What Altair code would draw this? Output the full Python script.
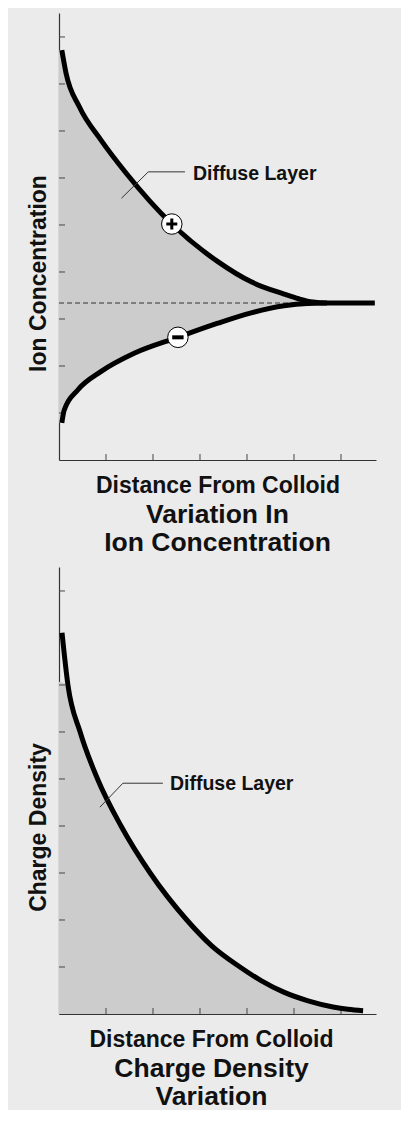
import altair as alt
import pandas as pd

# ---------------- data ----------------
X_MAX = 6.745          # x-axis extent (tick spacing = 1 unit)
Y_MAX = 9.51           # y-axis extent
tick_x = [1, 2, 3, 4, 5, 6]
tick_y = [1, 2, 3, 4, 5, 6, 7, 8, 9]

# Panel 1: Variation in ion concentration
pos_x = [0.06, 0.15, 0.43, 0.89, 1.43, 2.40, 3.38, 4.09, 4.79, 5.1, 5.4, 5.7, 6.72]
pos_y = [8.72, 8.23, 7.52, 6.81, 6.10, 5.02, 4.22, 3.79, 3.53, 3.43, 3.36, 3.34, 3.34]
neg_x = [0.06, 0.11, 0.40, 0.89, 1.60, 2.53, 3.38, 4.09, 4.79, 5.29, 5.7]
neg_y = [0.79, 1.06, 1.49, 1.88, 2.27, 2.61, 2.91, 3.13, 3.28, 3.33, 3.34]
ion_level = [3.34]          # bulk concentration (dashed line)
ion_level_end = [5.36]
sign_x = [2.40, 2.53]
sign_y = [5.02, 2.61]
sign_kind = ["plus", "minus"]
ion_leader_x = [2.68, 1.90, 1.33]
ion_leader_y = [6.13, 6.13, 5.57]
ion_label_x = [2.85]
ion_label_y = [6.09]

# Panel 2: Charge density variation
cd_x = [0.064, 0.19, 0.45, 0.82, 1.32, 1.94, 2.72, 3.25, 3.85, 4.3, 4.77, 5.3, 5.83, 6.15, 6.47]
cd_y = [8.11, 7.0, 6.0, 5.0, 4.0, 3.0, 2.0, 1.45, 1.0, 0.71, 0.47, 0.28, 0.15, 0.1, 0.07]
cd_fill_top = 7.07
cd_leader_x = [2.21, 1.36, 0.87]
cd_leader_y = [4.91, 4.91, 4.40]
cd_label_x = [2.36]
cd_label_y = [4.89]

# ---------------- styling ----------------
W, H = 317, 447
FONT = "Liberation Sans"
TXT = "#111111"
FILL = "#cccccc"
xs = alt.Scale(domain=[0, X_MAX], nice=False, zero=False)
ys = alt.Scale(domain=[0, Y_MAX], nice=False, zero=False)


def axes(xtitle, ytitle, xtitle_x=None):
    xa = dict(title=xtitle, labels=False, ticks=False, grid=False,
              domainColor="#333333", domainWidth=1.2,
              titleFont=FONT, titleFontSize=23, titleFontWeight="bold",
              titleColor=TXT, titleBaseline="alphabetic", titleY=32)
    if xtitle_x is not None:
        xa["titleX"] = xtitle_x
    ya = dict(title=ytitle, labels=False, ticks=False, grid=False,
              domainColor="#333333", domainWidth=1.2,
              titleFont=FONT, titleFontSize=23, titleFontWeight="bold",
              titleColor=TXT, titleAngle=270, titleX=-21, titleY=260,
              titleAlign="center", titleBaseline="middle")
    return alt.Axis(**xa), alt.Axis(**ya)


def panel(xa, ya, fills, line_df, leader_df, label_df, under, over, title, title_dx=0):
    X = lambda f="x": alt.X(f"{f}:Q", scale=xs, axis=xa)
    Y = lambda f="y": alt.Y(f"{f}:Q", scale=ys, axis=ya)

    areas = [alt.Chart(df).mark_area(color=FILL, interpolate="monotone").encode(
        x=X(), y=Y(), y2=alt.Y2("y2:Q")) for df in fills]
    yt = alt.Chart(pd.DataFrame({"y": tick_y})).mark_rule(color="#444444", strokeWidth=1).encode(
        y=Y(), x=alt.value(0), x2=alt.value(6))
    xt = alt.Chart(pd.DataFrame({"x": tick_x})).mark_rule(color="#444444", strokeWidth=1).encode(
        x=X(), y=alt.value(H), y2=alt.value(H - 6))
    curve = alt.Chart(line_df).mark_line(color="black", strokeWidth=5, interpolate="monotone",
                                         strokeCap="butt").encode(
        x=X(), y=Y(), detail="s:N")
    leader = alt.Chart(leader_df).mark_line(color="#333333", strokeWidth=1).encode(
        x=X(), y=Y(), order="o:Q")
    label = alt.Chart(label_df).mark_text(text="Diffuse Layer", align="left", baseline="middle",
                                          font=FONT, fontWeight="bold", fontSize=19.5,
                                          color=TXT).encode(x=X(), y=Y())
    layers = areas + under(X, Y) + [yt, xt, curve, leader, label] + over(X, Y)
    return alt.layer(*layers).properties(
        width=W, height=H,
        title=alt.TitleParams(text=title, orient="bottom", anchor="middle", frame="group",
                              font=FONT, fontSize=26.5, fontWeight="bold", color=TXT,
                              lineHeight=27.5, offset=5, dx=title_dx))


# ---- panel 1 ----
lvl = ion_level[0]
fill_pos = pd.DataFrame({"x": [0.0] + pos_x, "y": [pos_y[0]] + pos_y,
                         "y2": [lvl - 0.02] * (len(pos_x) + 1)})
fill_neg = pd.DataFrame({"x": [0.0] + neg_x, "y": [lvl + 0.02] * (len(neg_x) + 1),
                         "y2": [neg_y[0]] + neg_y})
line1 = pd.concat([
    pd.DataFrame({"x": pos_x, "y": pos_y, "s": "pos"}),
    pd.DataFrame({"x": neg_x, "y": neg_y, "s": "neg"}),
])
leader1 = pd.DataFrame({"x": ion_leader_x, "y": ion_leader_y, "o": [0, 1, 2]})
label1 = pd.DataFrame({"x": ion_label_x, "y": ion_label_y})
dash1 = pd.DataFrame({"x": [0.0], "x2": ion_level_end, "y": ion_level})
signs = pd.DataFrame({"x": sign_x, "y": sign_y, "k": sign_kind})


def ion_under(X, Y):
    dash = alt.Chart(dash1).mark_rule(color="#333333", strokeWidth=1, strokeDash=[5, 3]).encode(
        x=X(), x2=alt.X2("x2:Q"), y=Y())
    return [dash]


def ion_over(X, Y):
    circ = alt.Chart(signs).mark_point(shape="circle", size=420, filled=True, fill="white",
                                       stroke="black", strokeWidth=1, opacity=1).encode(x=X(), y=Y())
    plus = alt.Chart(signs[signs.k == "plus"]).mark_point(
        shape="M-1,0L1,0M0,-1L0,1", size=121, strokeWidth=3, color="black", filled=False,
        opacity=1).encode(x=X(), y=Y())
    minus = alt.Chart(signs[signs.k == "minus"]).mark_point(
        shape="M-1,0L1,0", size=130, strokeWidth=4, color="black", filled=False,
        opacity=1).encode(x=X(), y=Y())
    return [circ, plus, minus]


xa1, ya1 = axes("Distance From Colloid", "Ion Concentration")
p1 = panel(xa1, ya1, [fill_pos, fill_neg], line1, leader1, label1, ion_under, ion_over,
           ["Variation In", "Ion Concentration"])

# ---- panel 2 ----
fill2 = pd.DataFrame({"x": [0.0] + cd_x[1:],
                      "y": [cd_fill_top] + cd_y[1:],
                      "y2": [0.0] * len(cd_x)})
line2 = pd.DataFrame({"x": cd_x, "y": cd_y, "s": "cd"})
leader2 = pd.DataFrame({"x": cd_leader_x, "y": cd_leader_y, "o": [0, 1, 2]})
label2 = pd.DataFrame({"x": cd_label_x, "y": cd_label_y})

xa2, ya2 = axes("Distance From Colloid", "Charge Density", xtitle_x=152)
p2 = panel(xa2, ya2, [fill2], line2, leader2, label2, lambda X, Y: [], lambda X, Y: [],
           ["Charge Density", "Variation"], title_dx=-6)

chart = alt.vconcat(p1, p2, spacing=11).properties(
    padding={"left": 18, "top": 5, "right": 16, "bottom": 0}
).configure(background="#ebebeb").configure_view(stroke=None)

chart.save("out.html", embed_options={"renderer": "svg", "actions": False})
